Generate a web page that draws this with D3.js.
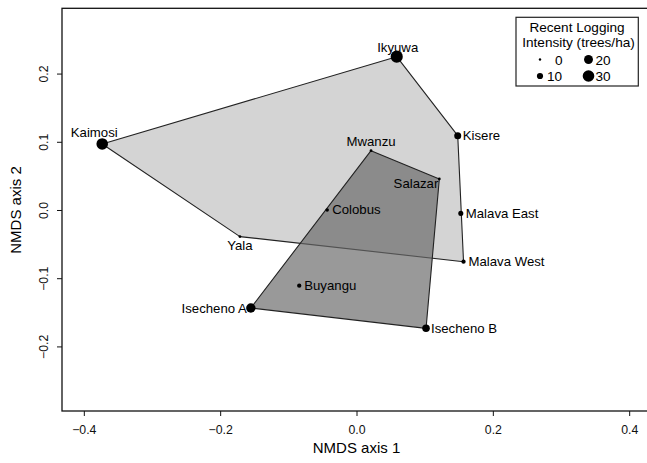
<!DOCTYPE html>
<html>
<head>
<meta charset="utf-8">
<script src="https://cdn.jsdelivr.net/npm/d3@7.9.0/dist/d3.min.js"></script>
<style>
  body { margin: 0; background: #fff; }
  svg { font-family: "Liberation Sans", Arial, sans-serif; display: block; }
</style>
</head>
<body>
<div id="chart"></div>
<script>
// sites and their NMDS scores
const sites = ['Ikyuwa', 'Kaimosi', 'Kisere', 'Mwanzu', 'Salazar', 'Colobus',
  'Malava East', 'Malava West', 'Yala', 'Buyangu', 'Isecheno A', 'Isecheno B'];
const nmds1 = [0.059, -0.373, 0.1485, 0.0213, 0.1215, -0.043, 0.153, 0.157, -0.171, -0.084, -0.155, 0.102];
const nmds2 = [0.2248, 0.0968, 0.109, 0.087, 0.0455, 0.0, -0.005, -0.0758, -0.039, -0.111, -0.1437, -0.1735];
// recent logging intensity (trees/ha)
const logging = [32, 30, 13, 1, 1, 3, 7, 5, 1, 5, 22, 15];
// hull group of each site
const group = [1, 1, 1, 2, 2, 2, 1, 1, 1, 2, 2, 2];
// R-style label position: 1 below, 2 left, 3 above, 4 right
const labelPos = [3, 3, 4, 3, 2, 4, 4, 4, 1, 4, 2, 4];

const xTicks = [-0.4, -0.2, 0.0, 0.2, 0.4];
const yTicks = [-0.2, -0.1, 0.0, 0.1, 0.2];
const legendValues = [0, 10, 20, 30];

const width = 647;
const height = 463;

const svg = d3.select('#chart')
  .append('svg')
  .attr('width', width)
  .attr('height', height);

const area = { left: 62, right: 651, top: 8.3, bottom: 411 };

const xScale = d3.scaleLinear().domain([-0.432, 0.432]).range([area.left, area.right]);
const yScale = d3.scaleLinear().domain([-0.2947, 0.2957]).range([area.bottom, area.top]);
const rScale = d3.scaleLinear().domain([0, 10, 30]).range([1.2, 3.1, 5.8]);

const points = sites.map((name, i) => ({
  name,
  x: nmds1[i],
  y: nmds2[i],
  logging: logging[i],
  group: group[i],
  pos: labelPos[i],
}));

// hulls
const hullStyle = {
  1: { fill: '#d4d4d4', opacity: 1 },
  2: { fill: '#686868', opacity: 0.68 },
};
for (const g of [1, 2]) {
  const pts = points.filter((d) => d.group === g).map((d) => [xScale(d.x), yScale(d.y)]);
  const hull = d3.polygonHull(pts);
  svg.append('path')
    .attr('d', 'M' + hull.join('L') + 'Z')
    .attr('fill', hullStyle[g].fill)
    .attr('fill-opacity', hullStyle[g].opacity)
    .attr('stroke', '#222')
    .attr('stroke-width', 1.1)
    .attr('stroke-linejoin', 'round');
}

// points
svg.append('g')
  .selectAll('circle')
  .data(points)
  .join('circle')
  .attr('cx', (d) => xScale(d.x))
  .attr('cy', (d) => yScale(d.y))
  .attr('r', (d) => rScale(d.logging))
  .attr('fill', '#000');

// labels
const nudge = { 'Kaimosi': [-8, -2], 'Salazar': [3, 5], 'Ikyuwa': [1, 0] };
svg.append('g')
  .attr('font-size', 13.2)
  .attr('fill', '#000')
  .selectAll('text')
  .data(points)
  .join('text')
  .attr('x', (d) => {
    const base = xScale(d.x) + (nudge[d.name] ? nudge[d.name][0] : 0);
    if (d.pos === 4) return base + 5;
    if (d.pos === 2) return base - 4;
    return base;
  })
  .attr('y', (d) => {
    const base = yScale(d.y) + (nudge[d.name] ? nudge[d.name][1] : 0);
    if (d.pos === 3) return base - 5;
    if (d.pos === 1) return base + 13;
    return base + 4.5;
  })
  .attr('text-anchor', (d) => (d.pos === 4 ? 'start' : d.pos === 2 ? 'end' : 'middle'))
  .text((d) => d.name);

// axes
const xAxis = svg.append('g')
  .attr('transform', `translate(0, ${area.bottom})`)
  .call(d3.axisBottom(xScale).tickValues(xTicks).tickSize(5).tickPadding(9.5)
    .tickFormat(d3.format('.1f')));
xAxis.select('.domain').remove();
xAxis.selectAll('text').attr('font-size', 12.3).attr('fill', '#111').attr('font-family', null);
xAxis.selectAll('line').attr('stroke', '#111');

const yAxis = svg.append('g')
  .attr('transform', `translate(${area.left}, 0)`)
  .call(d3.axisLeft(yScale).tickValues(yTicks).tickSize(5)
    .tickFormat(d3.format('.1f')));
yAxis.select('.domain').remove();
yAxis.selectAll('line').attr('stroke', '#111');
yAxis.selectAll('text')
  .attr('font-size', 12.3)
  .attr('fill', '#111')
  .attr('font-family', null)
  .attr('transform', 'rotate(-90)')
  .attr('x', 0)
  .attr('y', -14)
  .attr('dy', 0)
  .attr('text-anchor', 'middle');

// plot box
svg.append('rect')
  .attr('x', area.left)
  .attr('y', area.top)
  .attr('width', area.right - area.left)
  .attr('height', area.bottom - area.top)
  .attr('fill', 'none')
  .attr('stroke', '#111')
  .attr('stroke-width', 1.3);

// axis titles
svg.append('text')
  .attr('x', (area.left + area.right) / 2)
  .attr('y', 453)
  .attr('text-anchor', 'middle')
  .attr('font-size', 15)
  .attr('fill', '#000')
  .text('NMDS axis 1');

svg.append('text')
  .attr('transform', `translate(20.5, ${yScale(0)}) rotate(-90)`)
  .attr('text-anchor', 'middle')
  .attr('font-size', 15)
  .attr('fill', '#000')
  .text('NMDS axis 2');

// legend
const legend = svg.append('g').attr('font-size', 13.6).attr('fill', '#000');
legend.append('rect')
  .attr('x', 516).attr('y', 17.3)
  .attr('width', 122.3).attr('height', 68.7)
  .attr('fill', '#fff')
  .attr('stroke', '#222')
  .attr('stroke-width', 1.2);
legend.append('text').attr('x', 577).attr('y', 31.5).attr('text-anchor', 'middle').text('Recent Logging');
legend.append('text').attr('x', 578.5).attr('y', 46.5).attr('text-anchor', 'middle').text('Intensity (trees/ha)');

const legendItems = legend.selectAll('g.item')
  .data(legendValues)
  .join('g')
  .attr('class', 'item')
  .attr('transform', (d, i) => `translate(${i < 2 ? 540 : 588.5}, ${i % 2 === 0 ? 59.5 : 76})`);
legendItems.append('circle').attr('r', (d) => rScale(d)).attr('fill', '#000');
legendItems.append('text')
  .attr('x', (d) => (d === 0 ? 15 : 7))
  .attr('y', 5)
  .text((d) => d);
</script>
</body>
</html>
